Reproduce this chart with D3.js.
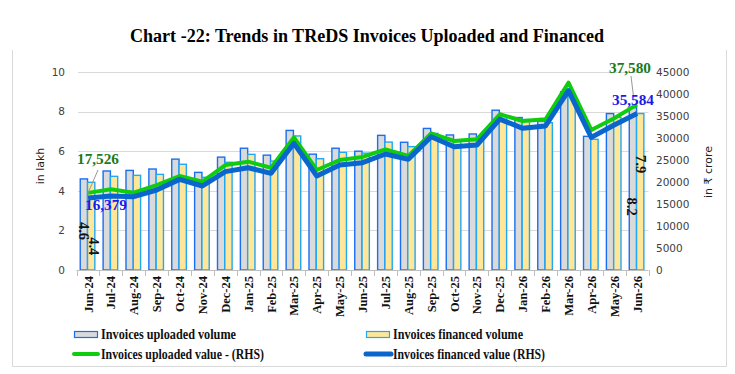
<!DOCTYPE html>
<html><head><meta charset="utf-8">
<script src="https://cdn.jsdelivr.net/npm/d3@7"></script>
<style>html,body{margin:0;padding:0;background:#fff;}svg{display:block;}</style>
</head><body><svg id="c" width="735" height="374"></svg>
<script>
const categories = ["Jun-24","Jul-24","Aug-24","Sep-24","Oct-24","Nov-24","Dec-24","Jan-25","Feb-25","Mar-25","Apr-25","May-25","Jun-25","Jul-25","Aug-25","Sep-25","Oct-25","Nov-25","Dec-25","Jan-26","Feb-26","Mar-26","Apr-26","May-26","Jun-26"];
const uploadedVolume = [4.6,5.0,5.03,5.1,5.6,4.93,5.7,6.15,5.8,7.05,5.85,6.15,6.0,6.8,6.45,7.15,6.82,6.87,8.07,7.7,7.52,9.0,6.75,7.9,8.2];
const financedVolume = [4.43,4.73,4.78,4.83,5.34,4.68,5.44,5.84,5.5,6.77,5.62,5.94,5.9,6.46,6.23,6.9,6.57,6.7,7.8,7.6,7.44,8.8,6.6,7.71,7.9];
const uploadedValue = [17526,18340,17570,19300,21360,20070,23860,24620,23250,30150,22730,25000,25700,27430,25900,31060,29320,29700,35400,33860,34240,42570,31820,34470,37580];
const financedValue = [16379,16820,16670,18180,20600,19090,22350,23250,21970,28790,21360,23860,24400,26360,25150,30300,28030,28400,34300,32200,32730,40750,30150,32950,35584];
const leftTicks = [0,2,4,6,8,10];
const rightTicks = [0,5000,10000,15000,20000,25000,30000,35000,40000,45000];

const svg = d3.select("#c");
const serif = "'Liberation Serif','DejaVu Serif',serif";
const sans = "'DejaVu Sans',Verdana,sans-serif";

const x = d3.scaleBand().domain(categories).range([76.6, 648.5]).padding(0);
const yL = d3.scaleLinear().domain([0,10]).range([270,72]);
const yR = d3.scaleLinear().domain([0,45000]).range([270,72]);
const cx = c => x(c) + x.bandwidth()/2;

// frame
svg.append("path").attr("d","M12.5,50 V366.5 H726.5 V50").attr("fill","none").attr("stroke","#d9d9d9");

// title
svg.append("text").attr("x",367).attr("y",42).attr("text-anchor","middle")
  .attr("font-family",serif).attr("font-weight","bold").attr("font-size",18)
  .attr("textLength",474).attr("lengthAdjust","spacingAndGlyphs")
  .text("Chart -22: Trends in TReDS Invoices Uploaded and Financed");

// gridlines
svg.append("g").selectAll("line").data(leftTicks.filter(d=>d>0)).join("line")
  .attr("x1",78).attr("x2",648.5).attr("y1",d=>Math.round(yL(d))+0.5).attr("y2",d=>Math.round(yL(d))+0.5)
  .attr("stroke","#d9d9d9").attr("stroke-width",1);

// left axis
const gL = svg.append("g").attr("transform","translate(70,0)")
  .call(d3.axisLeft(yL).tickValues(leftTicks).tickSize(0).tickPadding(5));
gL.select(".domain").remove();
gL.selectAll("text").attr("font-family",sans).attr("font-size",10.5).attr("fill","#404040");

// right axis
const gR = svg.append("g").attr("transform","translate(651,0)")
  .call(d3.axisRight(yR).tickValues(rightTicks).tickSize(0).tickPadding(5).tickFormat(d3.format("d")));
gR.select(".domain").remove();
gR.selectAll("text").attr("font-family",sans).attr("font-size",10.5).attr("fill","#404040");

// axis titles
svg.append("text").attr("transform","translate(44,166) rotate(-90)").attr("text-anchor","middle")
  .attr("font-family",sans).attr("font-size",11).attr("fill","#222").text("in lakh");
svg.append("text").attr("transform","translate(712,172) rotate(-90)").attr("text-anchor","middle")
  .attr("font-family",sans).attr("font-size",11).attr("fill","#222").text("in ₹ crore");

// bars
const bw = 7.3;
const bars = svg.append("g");
bars.selectAll("rect.up").data(categories).join("rect").attr("class","up")
  .attr("x",(c)=>cx(c)-bw-0.5).attr("width",bw)
  .attr("y",(c,i)=>yL(uploadedVolume[i])).attr("height",(c,i)=>yL(0)-yL(uploadedVolume[i]))
  .attr("fill","#dadada").attr("stroke","#1a6ff0").attr("stroke-width",1.4);
bars.selectAll("rect.fin").data(categories).join("rect").attr("class","fin")
  .attr("x",(c)=>cx(c)-0.5).attr("width",bw)
  .attr("y",(c,i)=>yL(financedVolume[i])).attr("height",(c,i)=>yL(0)-yL(financedVolume[i]))
  .attr("fill","#ffe699").attr("stroke","#1fa8f5").attr("stroke-width",1.4);

// x axis
svg.append("line").attr("x1",76.6).attr("x2",648.5).attr("y1",270.5).attr("y2",270.5).attr("stroke","#bfbfbf");
svg.append("g").selectAll("line").data(categories.concat(["_end"])).join("line")
  .attr("x1",(c,i)=>Math.round(76.6+i*x.step())+0.5).attr("x2",(c,i)=>Math.round(76.6+i*x.step())+0.5)
  .attr("y1",270).attr("y2",276).attr("stroke","#bfbfbf");
svg.append("g").selectAll("text").data(categories).join("text")
  .attr("transform",c=>`translate(${cx(c)+4.5},276) rotate(-90)`).attr("text-anchor","end")
  .attr("font-family",serif).attr("font-weight","bold").attr("font-size",12.5).attr("fill","#111")
  .text(c=>c);

// lines
const lineFn = arr => d3.line().x((d,i)=>cx(categories[i])).y(d=>yR(d))(arr);
svg.append("path").attr("d",lineFn(uploadedValue)).attr("fill","none").attr("stroke","#0fcc0f").attr("stroke-width",4).attr("stroke-linejoin","round");
svg.append("path").attr("d",lineFn(financedValue)).attr("fill","none").attr("stroke","#0a66cc").attr("stroke-width",5).attr("stroke-linejoin","round");

// bar value labels
const n = categories.length-1;
const barLabels = [
  {v:uploadedVolume[0], x:cx(categories[0])-4, y:yL(1.97)},
  {v:financedVolume[0], x:cx(categories[0])+6, y:yL(1.2)},
  {v:uploadedVolume[n], x:cx(categories[n])-4.5, y:yL(3.2)},
  {v:financedVolume[n], x:cx(categories[n])+4, y:yL(5.35)}
];
svg.append("g").selectAll("text").data(barLabels).join("text")
  .attr("transform",d=>`translate(${d.x},${d.y}) rotate(90)`).attr("text-anchor","middle").attr("dy","0.35em")
  .attr("font-family",serif).attr("font-weight","bold").attr("font-size",14.5).attr("fill","#111")
  .text(d=>d3.format(".1f")(d.v));

// value labels with leader lines
const fmt = d3.format(",");
svg.append("line").attr("x1",98).attr("y1",170).attr("x2",cx(categories[0])).attr("y2",yR(uploadedValue[0])).attr("stroke","#999").attr("stroke-width",1);
svg.append("line").attr("x1",631).attr("y1",76).attr("x2",634).attr("y2",yR(uploadedValue[n])-4).attr("stroke","#999").attr("stroke-width",1);
const valLabels = [
  {t:fmt(uploadedValue[0]), x:77, y:164, c:"#1b7a1b"},
  {t:fmt(financedValue[0]), x:85, y:210, c:"#1a1ae8"},
  {t:fmt(uploadedValue[n]), x:609, y:73, c:"#1b7a1b"},
  {t:fmt(financedValue[n]), x:612, y:105, c:"#1a1ae8"}
];
svg.append("g").selectAll("text").data(valLabels).join("text")
  .attr("x",d=>d.x).attr("y",d=>d.y).attr("font-family",serif).attr("font-weight","bold").attr("font-size",15)
  .attr("fill",d=>d.c).attr("textLength",42).attr("lengthAdjust","spacingAndGlyphs").text(d=>d.t);

// legend
const lg = svg.append("g");
lg.append("rect").attr("x",74.5).attr("y",331.5).attr("width",23).attr("height",6).attr("fill","#dadada").attr("stroke","#1a6ff0").attr("stroke-width",1.2);
lg.append("rect").attr("x",366.5).attr("y",331.5).attr("width",23).attr("height",6).attr("fill","#ffe699").attr("stroke","#1fa8f5").attr("stroke-width",1.2);
lg.append("line").attr("x1",74).attr("x2",98).attr("y1",354).attr("y2",354).attr("stroke","#0fcc0f").attr("stroke-width",4).attr("stroke-linecap","round");
lg.append("line").attr("x1",366).attr("x2",391).attr("y1",354).attr("y2",354).attr("stroke","#0a66cc").attr("stroke-width",5).attr("stroke-linecap","round");
const legItems = [
  {t:"Invoices uploaded volume", x:101, y:339, w:135},
  {t:"Invoices financed volume", x:393, y:339, w:130},
  {t:"Invoices uploaded value - (RHS)", x:101, y:359, w:163},
  {t:"Invoices financed value (RHS)", x:393, y:359, w:152}
];
lg.selectAll("text").data(legItems).join("text")
  .attr("x",d=>d.x).attr("y",d=>d.y).attr("font-family",serif).attr("font-weight","bold").attr("font-size",14)
  .attr("textLength",d=>d.w).attr("lengthAdjust","spacingAndGlyphs").attr("fill","#111").text(d=>d.t);
</script></body></html>
